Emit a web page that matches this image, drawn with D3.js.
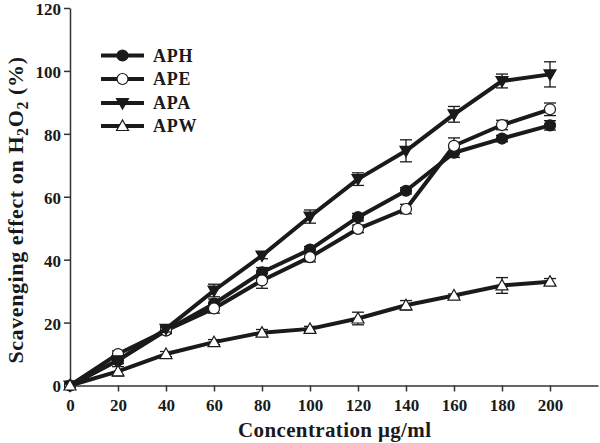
<!DOCTYPE html>
<html>
<head>
<meta charset="utf-8">
<script src="https://d3js.org/d3.v7.min.js"></script>
<style>
  body { margin: 0; background: #fff; }
  text { font-family: "Liberation Serif", "DejaVu Serif", serif; font-weight: bold; fill: #1a1a1a; }
</style>
</head>
<body>
<svg width="600" height="443"></svg>
<script>
const conc = [0, 20, 40, 60, 80, 100, 120, 140, 160, 180, 200];
const xTicks = [0, 20, 40, 60, 80, 100, 120, 140, 160, 180, 200];
const yTicks = [0, 20, 40, 60, 80, 100, 120];

const aph = [0, 8, 17.5, 26, 36, 43.2, 53.5, 61.9, 74, 78.5, 82.7];
const aphErr = [0, 1, 1, 1.5, 1.5, 1, 1.2, 1, 1.5, 1, 1.5];
const ape = [0, 10, 17.5, 24.5, 33.4, 40.8, 49.8, 56.1, 76.2, 82.8, 87.8];
const apeErr = [0, 1, 1, 1.5, 2.5, 1.5, 1.2, 1.5, 2.5, 1.5, 2];
const apa = [0, 8, 18, 30.2, 41.3, 53.7, 65.6, 74.6, 86.2, 96.8, 98.9];
const apaErr = [0, 1, 1, 2, 1, 2.1, 2, 3.5, 2.5, 2.2, 4];
const apw = [0, 4.5, 10, 13.8, 16.8, 18, 21.3, 25.5, 28.6, 31.8, 33];
const apwErr = [0, 1.5, 0.8, 0.8, 1, 0.8, 2, 1.5, 0.5, 2.5, 1];

const series = [
  { name: "APH", vals: aph, err: aphErr, marker: "circle", fill: "#1a1a1a" },
  { name: "APE", vals: ape, err: apeErr, marker: "circle", fill: "#fff" },
  { name: "APA", vals: apa, err: apaErr, marker: "down", fill: "#1a1a1a" },
  { name: "APW", vals: apw, err: apwErr, marker: "up", fill: "#fff" }
];

const svg = d3.select("svg");
const x = d3.scaleLinear().domain([0, 220]).range([70, 598]);
const y = d3.scaleLinear().domain([0, 120]).range([385.5, 8]);

// axes
const xAxis = svg.append("g").attr("transform", `translate(0,${y(0)})`)
  .call(d3.axisBottom(x).tickValues(xTicks).tickSize(6).tickSizeOuter(0));
const yAxis = svg.append("g").attr("transform", `translate(${x(0)},0)`)
  .call(d3.axisLeft(y).tickValues(yTicks).tickSize(6).tickSizeOuter(0));
[xAxis, yAxis].forEach(a => {
  a.select(".domain").attr("stroke", "#333").attr("stroke-width", 1.5);
  a.selectAll(".tick line").attr("stroke", "#333").attr("stroke-width", 1.5);
  a.selectAll(".tick text").style("font-size", "17px").attr("fill", "#1a1a1a");
});
xAxis.selectAll(".tick text").attr("dy", "0.95em");
yAxis.selectAll(".tick text").attr("x", -9).attr("dy", "0.38em");

// axis titles
svg.append("text").attr("x", 334.5).attr("y", 437)
  .attr("text-anchor", "middle").style("font-size", "21px")
  .attr("textLength", 193).attr("lengthAdjust", "spacing")
  .text("Concentration μg/ml");

const yt = svg.append("text")
  .attr("transform", "translate(23,210) rotate(-90)")
  .attr("text-anchor", "middle").style("font-size", "22px")
  .style("letter-spacing", "0.6px");
yt.append("tspan").text("Scavenging effect on H");
yt.append("tspan").attr("dy", 5).style("font-size", "16px").text("2");
yt.append("tspan").attr("dy", -5).text("O");
yt.append("tspan").attr("dy", 5).style("font-size", "16px").text("2");
yt.append("tspan").attr("dy", -5).text(" (%)");

function drawMarker(g, kind, fill, cx, cy) {
  if (kind === "circle") {
    g.append("circle").attr("cx", cx).attr("cy", cy).attr("r", 5.5)
      .attr("fill", fill).attr("stroke", "#1a1a1a").attr("stroke-width", 1.2);
  } else {
    const s = kind === "up" ? -1 : 1;
    const pts = [[cx - 6, cy - s * 4.5], [cx + 6, cy - s * 4.5], [cx, cy + s * 6]];
    g.append("polygon").attr("points", pts.map(p => p.join(",")).join(" "))
      .attr("fill", fill).attr("stroke", "#1a1a1a").attr("stroke-width", 1.2);
  }
}

const line = d3.line().x((d, i) => x(conc[i])).y(d => y(d));

series.forEach(s => {
  const g = svg.append("g");
  // error bars
  s.vals.forEach((v, i) => {
    if (s.err[i] <= 0) return;
    const cx = x(conc[i]);
    const t = y(v + s.err[i]), b = y(v - s.err[i]);
    g.append("line").attr("x1", cx).attr("x2", cx).attr("y1", t).attr("y2", b)
      .attr("stroke", "#1a1a1a").attr("stroke-width", 1.3);
    [t, b].forEach(yy => g.append("line").attr("x1", cx - 6).attr("x2", cx + 6)
      .attr("y1", yy).attr("y2", yy).attr("stroke", "#1a1a1a").attr("stroke-width", 1.3));
  });
  g.append("path").datum(s.vals).attr("d", line)
    .attr("fill", "none").attr("stroke", "#1a1a1a").attr("stroke-width", 4)
    .attr("stroke-linejoin", "round");
  s.vals.forEach((v, i) => drawMarker(g, s.marker, s.fill, x(conc[i]), y(v)));
});

// legend
const legY = [55.5, 79, 103, 126];
series.forEach((s, i) => {
  const g = svg.append("g");
  g.append("line").attr("x1", 101).attr("x2", 144).attr("y1", legY[i]).attr("y2", legY[i])
    .attr("stroke", "#1a1a1a").attr("stroke-width", 4);
  drawMarker(g, s.marker, s.fill, 122.5, legY[i]);
  g.append("text").attr("x", 153).attr("y", legY[i]).attr("dy", "0.35em")
    .style("font-size", "18px").style("letter-spacing", "0.8px").text(s.name);
});
</script>
</body>
</html>
